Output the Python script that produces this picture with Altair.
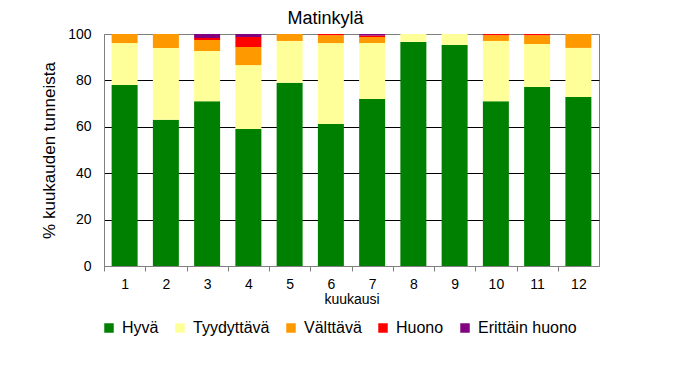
import altair as alt
import pandas as pd

months = [1, 2, 3, 4, 5, 6, 7, 8, 9, 10, 11, 12]
categories = ["Hyvä", "Tyydyttävä", "Välttävä", "Huono", "Erittäin huono"]
colors = ["#008000", "#FFFF99", "#FF9900", "#FF0000", "#800080"]

hyva = [78.0, 63.0, 71.0, 59.0, 79.0, 61.2, 72.0, 96.6, 95.3, 71.0, 77.2, 72.8]
tyydyttava = [18.1, 31.0, 21.7, 27.6, 18.0, 34.9, 24.1, 3.4, 4.7, 26.0, 18.5, 21.2]
valttava = [3.9, 6.0, 4.7, 7.8, 3.0, 3.4, 2.6, 0.0, 0.0, 2.5, 3.8, 6.0]
huono = [0.0, 0.0, 0.9, 4.3, 0.0, 0.5, 0.6, 0.0, 0.0, 0.5, 0.5, 0.0]
erittain = [0.0, 0.0, 1.7, 1.3, 0.0, 0.0, 0.7, 0.0, 0.0, 0.0, 0.0, 0.0]

series = [hyva, tyydyttava, valttava, huono, erittain]
rows = []
for ci, (cat, vals) in enumerate(zip(categories, series)):
    for m, v in zip(months, vals):
        rows.append({"kuukausi": m, "luokka": cat, "osuus": v, "jarj": ci})
df = pd.DataFrame(rows)

FONT = "Liberation Sans"

chart = alt.Chart(df).mark_bar().encode(
    x=alt.X(
        "kuukausi:O",
        title="kuukausi",
        scale=alt.Scale(paddingInner=0.37, paddingOuter=0.185),
        axis=alt.Axis(
            labelAngle=0,
            labelFontSize=14,
            labelColor="black",
            labelPadding=6,
            labelOffset=20.6,
            titleFontSize=14,
            titleFontWeight="normal",
            titleColor="black",
            titlePadding=1,
            domainColor="#808080",
            tickColor="#808080",
            tickSize=5,
            tickOffset=-20.6,
        ),
    ),
    y=alt.Y(
        "osuus:Q",
        title="% kuukauden tunneista",
        stack="zero",
        scale=alt.Scale(domain=[0, 100], nice=False),
        axis=alt.Axis(
            values=[0, 20, 40, 60, 80, 100],
            grid=True,
            gridColor=alt.condition(
                "datum.value == 0 || datum.value == 100",
                alt.value("#808080"),
                alt.value("black"),
            ),
            gridWidth=1,
            ticks=False,
            labelFontSize=14,
            labelColor="black",
            labelPadding=13,
            titleFontSize=17,
            titleFontWeight="normal",
            titleColor="black",
            titlePadding=9,
            domainColor="#808080",
        ),
    ),
    color=alt.Color(
        "luokka:N",
        scale=alt.Scale(domain=categories, range=colors),
        legend=alt.Legend(
            title=None,
            orient="none",
            direction="horizontal",
            legendX=-3,
            legendY=286,
            symbolType="square",
            symbolSize=90,
            symbolStrokeWidth=0,
            symbolOpacity=1,
            labelFontSize=16,
            labelColor="black",
            labelOffset=5,
            columnPadding=13,
        ),
    ),
    order=alt.Order("jarj:Q", sort="ascending"),
).properties(
    width=495,
    height=232,
    title=alt.TitleParams(
        "Matinkylä", fontSize=18, fontWeight="normal", color="black",
        font=FONT, dx=-26, offset=-1,
    ),
    autosize=alt.AutoSizeParams(type="none"),
    padding={"left": 96, "top": 26, "right": 70, "bottom": 80},
).configure(
    font=FONT,
).configure_view(
    stroke="#808080",
    strokeWidth=1,
)

chart.save("out.html", embed_options={"renderer": "svg", "actions": False})
